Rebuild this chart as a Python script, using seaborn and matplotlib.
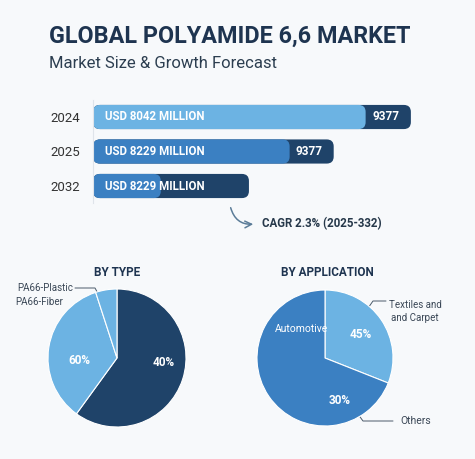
import numpy as np
import pandas as pd
import matplotlib
matplotlib.use('Agg')
import matplotlib.pyplot as plt
import seaborn as sns
from matplotlib.patches import FancyBboxPatch, Rectangle

# Data
years = ['2024', '2025', '2032']
bar_total = [9377, 7100, 4600]          # full (dark) bar length
bar_inner = [8042, 5800, 2000]          # inner highlighted segment
inner_labels = ['USD 8042 MILLION', 'USD 8229 MILLION', 'USD 8229 MILLION']
end_labels = ['9377', '9377', '']
cagr_text = 'CAGR 2.3% (2025-332)'

type_names = ['PA66-Fiber (dark)', 'PA66-Fiber', 'PA66-Plastic']
type_shares = [60, 35, 5]
type_pct_labels = ['40%', '60%', '']

app_names = ['Textiles and Carpet', 'Automotive']
app_shares = [31, 69]
app_pct_labels = ['45%', '30%']

# Colours
DARK = '#1f4369'
LIGHT = '#6cb3e3'
MID = '#3b80c2'
TITLE = '#1e3450'
BG = '#f7f9fb'

sns.set_theme(style='white')
plt.rcParams['font.family'] = ['Roboto', 'DejaVu Sans']

W, H = 475, 459
fig = plt.figure(figsize=(W / 100, H / 100), dpi=100, facecolor=BG)

# background axes in pixel coordinates for free text / leaders
bg = fig.add_axes([0, 0, 1, 1], facecolor=BG)
bg.set_xlim(0, W)
bg.set_ylim(H, 0)
bg.axis('off')

bg.text(49, 36, 'GLOBAL POLYAMIDE 6,6 MARKET', fontsize=16.8, fontweight='bold',
        color=TITLE, va='center', ha='left')
bg.text(49, 63, 'Market Size & Growth Forecast', fontsize=12, color='#2c3e50',
        va='center', ha='left')

# ---- bars ----
def px(x, y, w, h):
    return [x / W, 1 - (y + h) / H, w / W, h / H]

ax = fig.add_axes(px(93, 99.75, 339, 103.5))
ax.set_facecolor('none')
df = pd.DataFrame({'year': years, 'total': bar_total, 'inner': bar_inner})

sns.barplot(data=df, y='year', x='total', color=DARK, width=0.7, ax=ax,
            saturation=1)
sns.barplot(data=df, y='year', x='inner', hue='year',
            palette=[LIGHT, MID, MID], width=0.7, ax=ax, saturation=1,
            legend=False)
ax.set_xlim(0, 10000)
ax.set_ylim(2.5, -0.5)

# round bar corners
x_per_px = 10000 / 339
y_per_px = 3 / 103.5
aspect = y_per_px / x_per_px
rects = [p for p in ax.patches if isinstance(p, Rectangle)]
for p in rects:
    x0, y0, w, h = p.get_x(), p.get_y(), p.get_width(), p.get_height()
    fb = FancyBboxPatch((x0, y0), w, h,
                        boxstyle=f'round,pad=0,rounding_size={7 * x_per_px}',
                        mutation_aspect=aspect, facecolor=p.get_facecolor(),
                        edgecolor='none', zorder=p.get_zorder())
    p.remove()
    ax.add_patch(fb)

for i in range(len(years)):
    ax.text(12 * x_per_px, i, inner_labels[i], color='white', fontsize=8.3,
            fontweight='bold', va='center', ha='left', zorder=5)
    if end_labels[i]:
        ax.text(bar_total[i] - 11 * x_per_px, i, end_labels[i], color='white',
                fontsize=8.5, fontweight='bold', va='center', ha='right',
                zorder=5)

ax.set_xlabel('')
ax.set_ylabel('')
ax.set_xticks([])
ax.tick_params(axis='y', length=0, pad=9.4, labelsize=9.5, labelcolor='#333333')
for s in ['top', 'right', 'bottom']:
    ax.spines[s].set_visible(False)
ax.spines['left'].set_color('#dfe4ea')
ax.spines['left'].set_linewidth(0.8)

# CAGR arrow
bg.annotate('', xy=(256, 224), xytext=(230, 205),
            arrowprops=dict(arrowstyle='->', color='#5b7c98', lw=1.1,
                            connectionstyle='arc3,rad=0.45'))
bg.text(262, 224, cagr_text, fontsize=8.3, fontweight='bold', color='#26384a',
        va='center', ha='left')

# ---- pies ----
def pie_axes(cx, cy, r):
    half = 75
    a = fig.add_axes(px(cx - half, cy - half, 2 * half, 2 * half))
    return a, half / r

def fix_lims(a, lim):
    a.set_xlim(-lim, lim)
    a.set_ylim(-lim, lim)
    a.set_aspect('equal')
    a.axis('off')

pa, lim_a = pie_axes(117, 358, 69)
pa.pie(type_shares, colors=[DARK, LIGHT, LIGHT], startangle=90,
       counterclock=False, radius=1,
       wedgeprops=dict(edgecolor='white', linewidth=0.8))
fix_lims(pa, lim_a)
pa.text(0.67, -0.06, type_pct_labels[0], color='white', fontsize=8.5,
        fontweight='bold', ha='center', va='center')
pa.text(-0.55, -0.03, type_pct_labels[1], color='white', fontsize=8.5,
        fontweight='bold', ha='center', va='center')

pb, lim_b = pie_axes(325, 358, 68)
pb.pie(app_shares, colors=[LIGHT, MID], startangle=90, counterclock=False,
       radius=1, wedgeprops=dict(edgecolor='white', linewidth=0.8))
fix_lims(pb, lim_b)
pb.text(0.53, 0.34, app_pct_labels[0], color='white', fontsize=8.5,
        fontweight='bold', ha='center', va='center')
pb.text(0.21, -0.63, app_pct_labels[1], color='white', fontsize=8.5,
        fontweight='bold', ha='center', va='center')
pb.text(-0.35, 0.43, 'Automotive', color='white', fontsize=7.5,
        ha='center', va='center')

bg.text(117, 272, 'BY TYPE', fontsize=8.5, fontweight='bold', color=TITLE,
        ha='center', va='center')
bg.text(327, 272, 'BY APPLICATION', fontsize=8.5, fontweight='bold',
        color=TITLE, ha='center', va='center')

# leaders
lead = dict(color='#4a5a6a', lw=0.7)
bg.text(17, 288, 'PA66-Plastic', fontsize=7, color='#3a4756', ha='left',
        va='center')
bg.text(63, 302, 'PA66-Fiber', fontsize=7, color='#3a4756', ha='right',
        va='center')
bg.plot([75, 95, 101], [288, 288, 299], zorder=6, **lead)
bg.plot([101], [299], 'o', ms=2.2, color=DARK, zorder=7)

bg.text(415, 305, 'Textiles and', fontsize=7, color='#3a4756', ha='center',
        va='center')
bg.text(415, 318, 'and Carpet', fontsize=7, color='#3a4756', ha='center',
        va='center')
bg.plot([366, 373, 386], [311, 301, 301], zorder=6, **lead)
bg.plot([366], [311], 'o', ms=2.2, color=DARK, zorder=7)

bg.text(400, 421, 'Others', fontsize=7.5, color='#3a4756', ha='left',
        va='center')
bg.plot([355, 363, 393], [410, 421, 421], zorder=6, **lead)
bg.plot([355], [410], 'o', ms=2.2, color=DARK, zorder=7)

fig.savefig('out.png', dpi=100, facecolor=BG)
